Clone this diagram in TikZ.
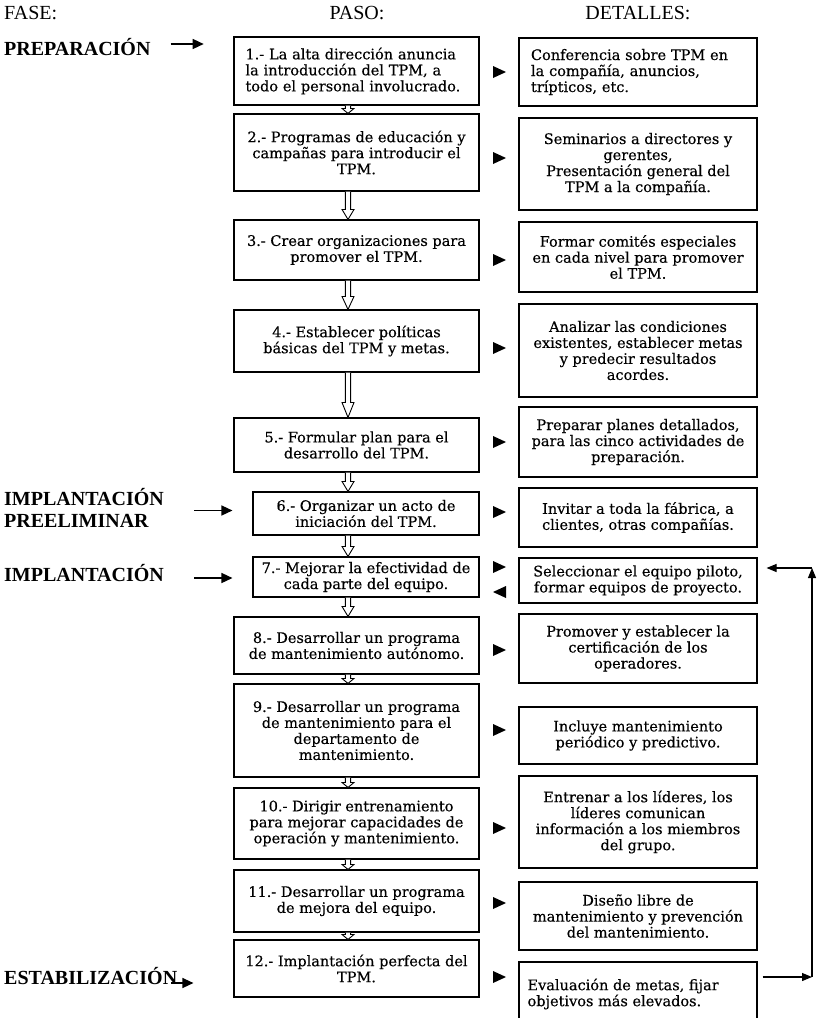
\documentclass[tikz,border=0pt]{standalone}
\usepackage{fontspec}
\setmainfont{Liberation Serif}
\newfontfamily\boxfont[FakeBold=0.35]{DejaVu Serif}
\usetikzlibrary{arrows.meta,calc}

% hollow down arrow between two steps: #1 from, #2 to, #3 head length
\newcommand{\hollowarrow}[3]{%
  \draw[hollow] let \p1=(#1), \p2=(#2) in
    (\x1-2.6pt,\y1) -- (\x1-2.6pt,\y2+#3) -- (\x1-6pt,\y2+#3) -- (\x2,\y2)
    -- (\x1+6pt,\y2+#3) -- (\x1+2.6pt,\y2+#3) -- (\x1+2.6pt,\y1);}

\begin{document}
\begin{tikzpicture}[x=1pt,y=-1pt,
  stepbox/.style={draw, line width=1.1pt, inner sep=0pt, align=center,
    font=\boxfont\fontsize{14.5}{16}\selectfont},
  leftstep/.style={stepbox, minimum width=245pt},
  narrowstep/.style={stepbox, minimum width=226pt},
  detail/.style={stepbox, minimum width=238pt},
  header/.style={font=\fontsize{20}{22}\selectfont, inner sep=0pt},
  phase/.style={font=\bfseries\fontsize{20}{22}\selectfont, inner sep=0pt, align=left},
  phasearrow/.style={line width=1.4pt, -{Triangle[length=11pt,width=10pt]}},
  hollow/.style={line width=0.9pt, fill=white, line join=miter},
  marker/.style={fill=black},
  looparrow/.style={line width=1.1pt, -{Triangle[length=10pt,width=8pt]}}]

\fill[white] (0,0) rectangle (818,1018);
\useasboundingbox (0,0) rectangle (818,1018);

% column headers
\node[header, anchor=west] (hfase) at (4,13) {FASE:};
\node[header] (hpaso) at (357,13) {PASO:};
\node[header] (hdet) at (638,13) {DETALLES:};

% steps
\node[leftstep, minimum height=68pt, text width=222pt, align=left] (p1) at (356.5,71)
  {1.- La alta dirección anuncia\\la introducción del TPM, a\\todo el personal involucrado.};
\node[leftstep, minimum height=77pt] (p2) at (356.5,152.5)
  {2.- Programas de educación y\\campañas para introducir el\\TPM.};
\node[leftstep, minimum height=60pt] (p3) at (356.5,250)
  {3.- Crear organizaciones para\\promover el TPM.};
\node[leftstep, minimum height=62pt] (p4) at (356.5,341)
  {4.- Establecer políticas\\básicas del TPM y metas.};
\node[leftstep, minimum height=54pt] (p5) at (356.5,445)
  {5.- Formular plan para el\\desarrollo del TPM.};
\node[narrowstep, minimum height=43pt] (p6) at (366,513.5)
  {6.- Organizar un acto de\\iniciación del TPM.};
\node[narrowstep, minimum height=40pt] (p7) at (366,577)
  {7.- Mejorar la efectividad de\\cada parte del equipo.};
\node[leftstep, minimum height=57pt] (p8) at (356.5,645.5)
  {8.- Desarrollar un programa\\de mantenimiento autónomo.};
\node[leftstep, minimum height=93pt] (p9) at (356.5,730.5)
  {9.- Desarrollar un programa\\de mantenimiento para el\\departamento de\\mantenimiento.};
\node[leftstep, minimum height=71pt] (p10) at (356.5,823.5)
  {10.- Dirigir entrenamiento\\para mejorar capacidades de\\operación y mantenimiento.};
\node[leftstep, minimum height=62pt] (p11) at (356.5,901)
  {11.- Desarrollar un programa\\de mejora del equipo.};
\node[leftstep, minimum height=57pt] (p12) at (356.5,968.5)
  {12.- Implantación perfecta del\\TPM.};

% details
\node[detail, minimum height=68pt, text width=214pt, align=left] (d1) at (638,72)
  {Conferencia sobre TPM en\\la compañía, anuncios,\\trípticos, etc.};
\node[detail, minimum height=92pt] (d2) at (638,164)
  {Seminarios a directores y\\gerentes,\\Presentación general del\\TPM a la compañía.};
\node[detail, minimum height=70pt] (d3) at (638,257)
  {Formar comités especiales\\en cada nivel para promover\\el TPM.};
\node[detail, minimum height=93pt] (d4) at (638,350.5)
  {Analizar las condiciones\\existentes, establecer metas\\y predecir resultados\\acordes.};
\node[detail, minimum height=70pt] (d5) at (638,442)
  {Preparar planes detallados,\\para las cinco actividades de\\preparación.};
\node[detail, minimum height=59pt] (d6) at (638,517.5)
  {Invitar a toda la fábrica, a\\clientes, otras compañías.};
\node[detail, minimum height=45pt] (d7) at (638,580.5)
  {Seleccionar el equipo piloto,\\formar equipos de proyecto.};
\node[detail, minimum height=69pt] (d8) at (638,648.5)
  {Promover y establecer la\\certificación de los\\operadores.};
\node[detail, minimum height=57pt] (d9) at (638,735.5)
  {Incluye mantenimiento\\periódico y predictivo.};
\node[detail, minimum height=92pt] (d10) at (638,822)
  {Entrenar a los líderes, los\\líderes comunican\\información a los miembros\\del grupo.};
\node[detail, minimum height=68pt] (d11) at (638,916)
  {Diseño libre de\\mantenimiento y prevención\\del mantenimiento.};
\node[detail, minimum height=80pt] (d12) at (638,1002) {};
\node[stepbox, draw=none, align=left, anchor=north west] (d12t) at (527,978)
  {Evaluación de metas, fijar\\objetivos más elevados.};

% flow between steps
\coordinate (ax) at (348,0);
\hollowarrow{p1.south -| ax}{p2.north -| ax}{5pt}
\hollowarrow{p2.south -| ax}{p3.north -| ax}{10pt}
\hollowarrow{p3.south -| ax}{p4.north -| ax}{13pt}
\hollowarrow{p4.south -| ax}{p5.north -| ax}{15pt}
\hollowarrow{p5.south -| ax}{p6.north -| ax}{10pt}
\hollowarrow{p6.south -| ax}{p7.north -| ax}{10pt}
\hollowarrow{p7.south -| ax}{p8.north -| ax}{10pt}
\hollowarrow{p8.south -| ax}{p9.north -| ax}{5pt}
\hollowarrow{p9.south -| ax}{p10.north -| ax}{5pt}
\hollowarrow{p10.south -| ax}{p11.north -| ax}{5pt}
\hollowarrow{p11.south -| ax}{p12.north -| ax}{5pt}

% markers from each step to its details
\foreach \yy in {72,158,260,348,442,512,567,650,730,828,903,977}
  \fill[marker] (493,\yy-6) -- (506,\yy) -- (493,\yy+6) -- cycle;
\fill[marker] (506,586) -- (493,592) -- (506,598) -- cycle;

% phases
\node[phase, anchor=west] (f1) at (4,47) {PREPARACIÓN};
\node[phase, anchor=west] (f2) at (4,508) {IMPLANTACIÓN\\PREELIMINAR};
\node[phase, anchor=west] (f3) at (4,573) {IMPLANTACIÓN};
\node[phase, anchor=west] (f4) at (4,976) {ESTABILIZACIÓN};

\draw[phasearrow] ([xshift=20pt,yshift=3pt]f1.east) -- ++(33,0);
\draw[phasearrow] ($(p6.west)+(-58,-3)$) -- ($(p6.west)+(-20,-3)$);
\draw[phasearrow] ($(p7.west)+(-58,1)$) -- ($(p7.west)+(-20,1)$);
\draw[phasearrow] ([xshift=-6pt,yshift=-7pt]f4.east) -- ++(22,0);

% feedback loop from evaluation back to the pilot selection
\coordinate (lb) at (812,977);
\coordinate (lt) at (812,568);
\draw[looparrow, shorten <=5pt] (d12.east |- lb) -- (lb);
\draw[looparrow] (lb) -- (lt);
\draw[looparrow, shorten >=9pt] (lt) -- (d7.east |- lt);

\end{tikzpicture}
\end{document}
